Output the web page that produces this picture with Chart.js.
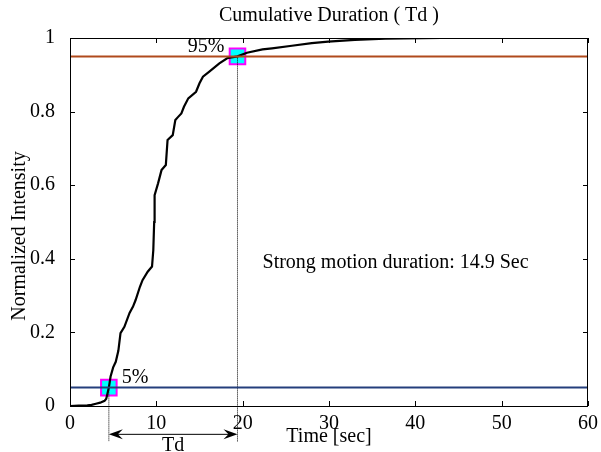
<!DOCTYPE html>
<html>
<head>
<meta charset="utf-8">
<script src="https://cdn.jsdelivr.net/npm/chart.js@4"></script>
<style>
  html, body { margin: 0; padding: 0; background: #fff; }
  #wrap { width: 601px; height: 452px; }
</style>
</head>
<body>
<div id="wrap"><canvas id="durChart" width="601" height="452"></canvas></div>
<script>
// time axis [sec] and normalized Arias intensity
const timeSec = [0, 1, 2, 2.5, 3.0, 3.5, 4.0, 4.2, 4.3, 4.5, 4.7, 5.0, 5.3, 5.6, 5.85, 6.3, 6.9, 7.3, 7.6, 8.1, 8.4, 9.0, 9.5, 9.65, 9.75, 9.8, 10.2, 10.6, 11.1, 11.3, 11.9, 12.2, 12.5, 12.9, 13.2, 13.7, 14.6, 15.0, 15.4, 16.1, 17.3, 18.2, 19.4, 20.5, 22.3, 23.4, 25.7, 28.0, 29.9, 33.0, 36.5, 43.0];
const intensity = [0, 0.001, 0.002, 0.003, 0.006, 0.009, 0.014, 0.02, 0.03, 0.05, 0.08, 0.105, 0.12, 0.15, 0.198, 0.215, 0.253, 0.27, 0.288, 0.324, 0.342, 0.365, 0.379, 0.424, 0.5, 0.573, 0.605, 0.641, 0.655, 0.723, 0.736, 0.777, 0.785, 0.795, 0.813, 0.836, 0.854, 0.877, 0.895, 0.908, 0.931, 0.945, 0.95, 0.96, 0.969, 0.972, 0.979, 0.986, 0.99, 0.995, 0.998, 1.0];

const t5 = 4.5, t95 = 19.4;          // 5% and 95% crossing times
const levels = [0.05, 0.95];
const xTicks = [0, 10, 20, 30, 40, 50, 60];
const yTicks = [0, 0.2, 0.4, 0.6, 0.8, 1];
const dropTo = -0.097;                // dotted guides run below the axis
const arrowY = -0.077;

const FONT = "'Liberation Serif', 'Times New Roman', serif";

const curve = timeSec.map((t, i) => ({ x: t, y: intensity[i] }));

// draws box, inward ticks and all the annotations
const decorPlugin = {
    id: 'decor',
    afterDatasetsDraw(chart) {
        const { ctx, chartArea: a, scales: { x, y } } = chart;
        ctx.save();
        ctx.strokeStyle = '#000';
        ctx.lineWidth = 1;
        ctx.strokeRect(a.left + 0.5, a.top + 0.5, a.right - a.left - 1, a.bottom - a.top);
        ctx.beginPath();
        xTicks.forEach(v => {
            const px = Math.round(x.getPixelForValue(v)) + 0.5;
            ctx.moveTo(px, a.bottom); ctx.lineTo(px, a.bottom - 5);
            ctx.moveTo(px, a.top); ctx.lineTo(px, a.top + 5);
        });
        yTicks.forEach(v => {
            const py = Math.round(y.getPixelForValue(v)) + 0.5;
            ctx.moveTo(a.left, py); ctx.lineTo(a.left + 5, py);
            ctx.moveTo(a.right, py); ctx.lineTo(a.right - 5, py);
        });
        ctx.stroke();

        // Td arrow
        const x1 = x.getPixelForValue(t5), x2 = x.getPixelForValue(t95);
        const ay = y.getPixelForValue(arrowY);
        ctx.beginPath();
        ctx.moveTo(x1 + 4, ay); ctx.lineTo(x2 - 4, ay);
        ctx.stroke();
        ctx.fillStyle = '#000';
        [[x1, 1], [x2, -1]].forEach(([px, d]) => {
            ctx.beginPath();
            ctx.moveTo(px, ay);
            ctx.lineTo(px + d * 14, ay - 5);
            ctx.lineTo(px + d * 9, ay);
            ctx.lineTo(px + d * 14, ay + 5);
            ctx.closePath();
            ctx.fill();
        });

        ctx.fillStyle = '#000';
        ctx.font = '20px ' + FONT;
        ctx.textBaseline = 'middle';
        ctx.textAlign = 'center';
        ctx.fillText('Td', (x1 + x2) / 2, 446);
        ctx.fillText('Cumulative Duration ( Td )', (a.left + a.right) / 2, 16);
        ctx.fillText('Time [sec]', (a.left + a.right) / 2, 437);

        ctx.save();
        ctx.translate(20, 236);
        ctx.rotate(-Math.PI / 2);
        ctx.fillText('Normalized Intensity', 0, 0);
        ctx.restore();

        ctx.textAlign = 'right';
        ctx.fillText('95%', x2 - 13, y.getPixelForValue(0.95) - 10);
        ctx.textAlign = 'left';
        ctx.fillText('5%', x1 + 13, y.getPixelForValue(0.05) - 10);
        ctx.fillText('Strong motion duration: 14.9 Sec', x.getPixelForValue(22.3), y.getPixelForValue(0.39));
        ctx.restore();
    }
};

new Chart(document.getElementById('durChart'), {
    type: 'scatter',
    data: {
        datasets: [
            {
                data: [{ x: 0, y: levels[1] }, { x: 60, y: levels[1] }],
                showLine: true, borderColor: '#b04a1c', borderWidth: 2, pointRadius: 0
            },
            {
                data: [{ x: 0, y: levels[0] }, { x: 60, y: levels[0] }],
                showLine: true, borderColor: '#243f7c', borderWidth: 2, pointRadius: 0
            },
            {
                data: [{ x: t5, y: levels[0] }, { x: t5, y: dropTo }],
                showLine: true, borderColor: '#000', borderWidth: 1, borderDash: [1, 1],
                pointRadius: 0, clip: false
            },
            {
                data: [{ x: t95, y: levels[1] }, { x: t95, y: dropTo }],
                showLine: true, borderColor: '#000', borderWidth: 1, borderDash: [1, 1],
                pointRadius: 0, clip: false
            },
            {
                data: curve,
                showLine: true, borderColor: '#000', borderWidth: 2.2, pointRadius: 0, tension: 0
            },
            {
                data: [{ x: t5, y: levels[0] }, { x: t95, y: levels[1] }],
                showLine: false, pointStyle: 'rect', pointRadius: 11,
                backgroundColor: '#00ffff', borderColor: '#ff00ff', borderWidth: 2, clip: false
            }
        ]
    },
    options: {
        responsive: false,
        animation: false,
        layout: { padding: { top: 38, right: 10, left: 0, bottom: 0 } },
        plugins: { legend: { display: false }, tooltip: { enabled: false } },
        scales: {
            x: {
                type: 'linear', min: 0, max: 60,
                afterFit: s => { s.height = 46; },
                afterBuildTicks: s => { s.ticks = xTicks.map(v => ({ value: v })); },
                grid: { display: false }, border: { display: false },
                ticks: { color: '#000', padding: -2, font: { family: FONT, size: 20 }, callback: v => String(v) }
            },
            y: {
                type: 'linear', min: 0, max: 1,
                afterFit: s => { s.width = 70; },
                afterBuildTicks: s => { s.ticks = yTicks.map(v => ({ value: v })); },
                grid: { display: false }, border: { display: false },
                ticks: { color: '#000', padding: 7, font: { family: FONT, size: 20 }, callback: v => String(v) }
            }
        }
    },
    plugins: [decorPlugin]
});
</script>
</body>
</html>
